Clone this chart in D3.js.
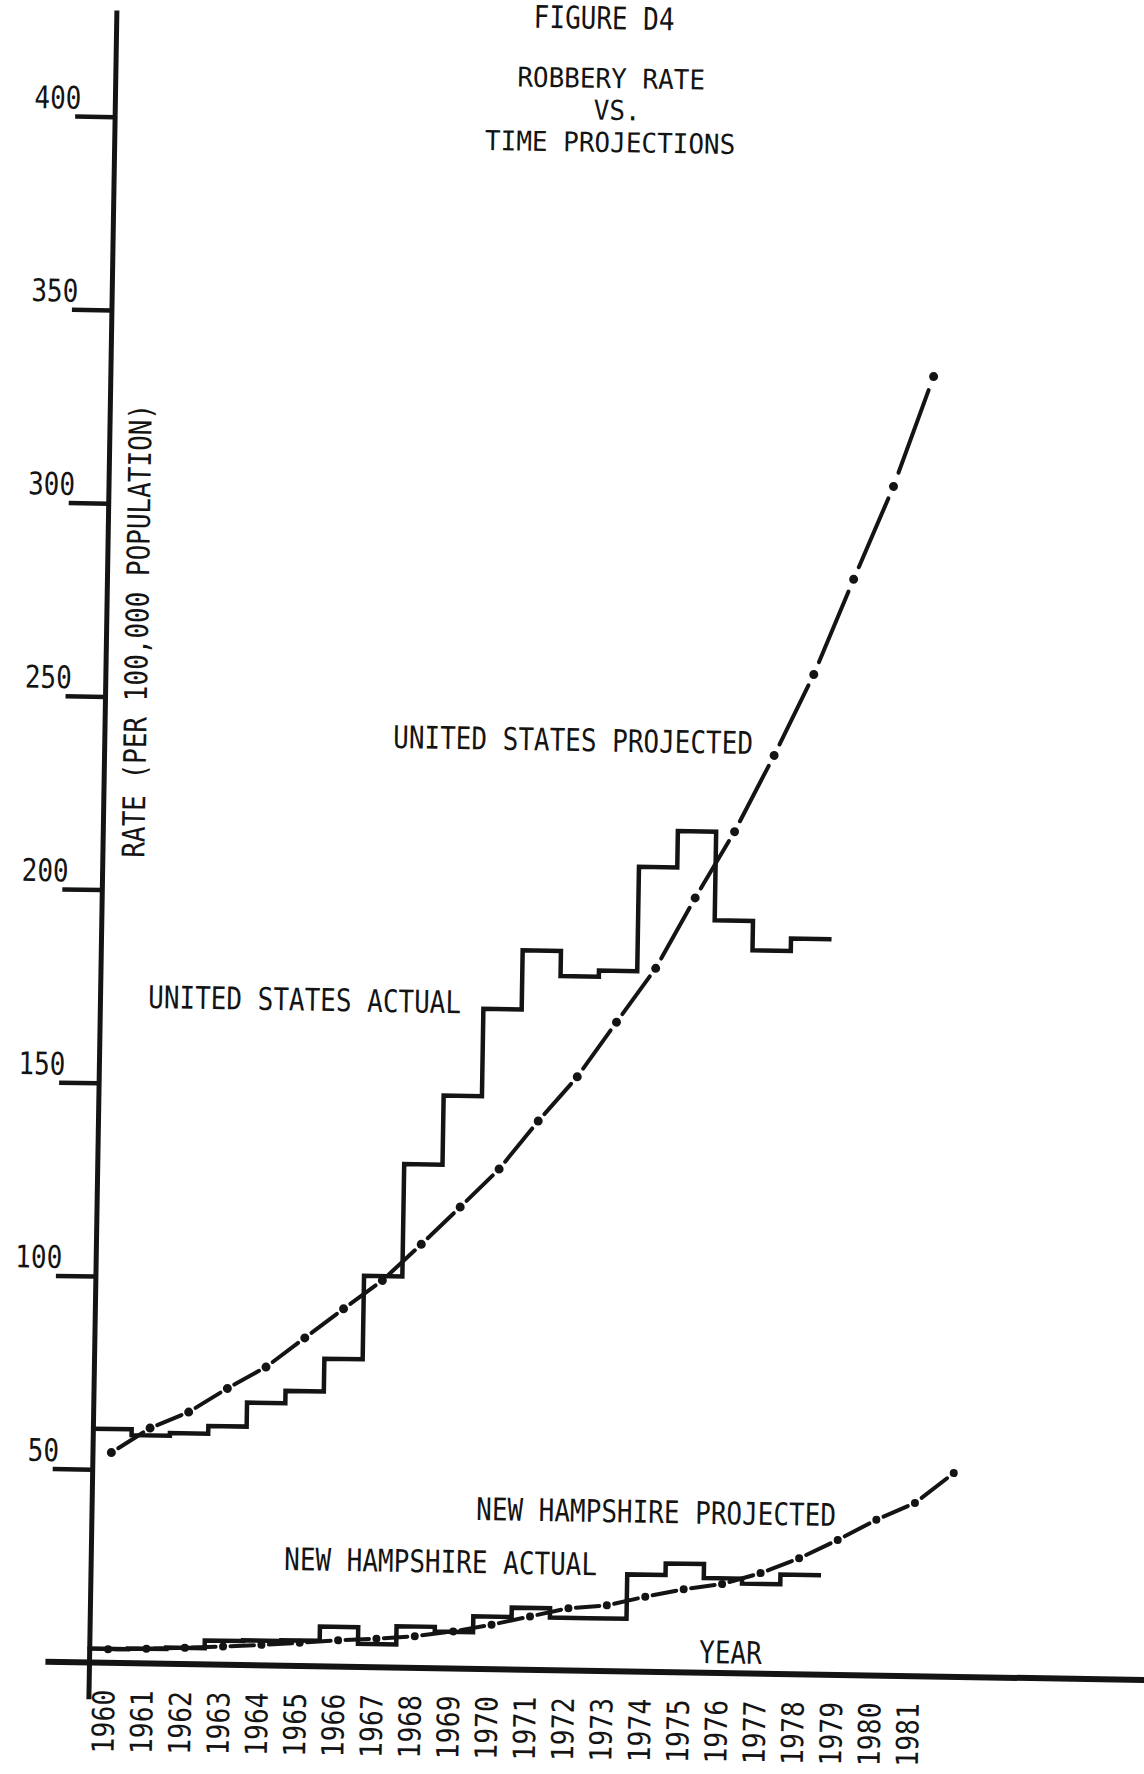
<!DOCTYPE html>
<html><head><meta charset="utf-8">
<script src="https://cdn.jsdelivr.net/npm/d3@7"></script>
<style>html,body{margin:0;padding:0;background:#fff;} svg{display:block;}</style>
</head><body><div id="chart"></div>
<script>
// ---------- data ----------
const actualYears = [1960,1961,1962,1963,1964,1965,1966,1967,1968,1969,1970,1971,1972,1973,1974,1975,1976,1977,1978];
const usActual = [60.5,59.0,59.7,61.7,67.9,71.1,79.6,101.2,130.3,148.2,170.8,186.1,179.6,181.2,208.2,217.6,194.7,187.1,190.3];
const nhActual = [3.6,3.8,4.2,6.2,6.4,6.6,10.3,6.0,10.7,9.5,13.6,16.0,13.6,13.6,25.1,28.1,24.5,23.2,25.7];
const usProjYears = [1960,1961,1962,1963,1964,1965,1966,1967,1968,1969,1970,1971,1972,1973,1974,1975,1976,1977,1978,1979,1980,1981];
const usProjected = [54.4,60.9,65.2,71.5,77.2,84.9,92.6,100.1,109.6,119.4,129.4,142.0,153.6,167.9,182.0,200.4,217.7,237.6,258.7,283.5,307.7,336.3];
const nhProjYears = [1960,1961,1962,1963,1964,1965,1966,1967,1968,1969,1970,1971,1972,1973,1974,1975,1976,1977,1978,1979,1980,1981,1982];
const nhProjected = [3.5,3.8,4.2,4.7,5.3,6.0,6.8,7.4,8.2,9.6,11.5,13.8,16.1,17.0,19.4,21.5,23.0,26.0,30.0,34.9,40.3,44.8,52.7];
const yTicks = [50,100,150,200,250,300,350,400];
const yearLabels = ["1960","1961","1962","1963","1964","1965","1966","1967","1968","1969","1970","1971","1972","1973","1974","1975","1976","1977","1978","1979","1980","1981"];
const titleLines = ["FIGURE D4","ROBBERY RATE","VS.","TIME PROJECTIONS"];

// ---------- layout ----------
const W = 1144, H = 1774;
const ox = 89.5, oy = 1662.5, theta = 0.95;
const rad = theta * Math.PI / 180, cs = Math.cos(rad), sn = Math.sin(rad);
const yearW = 38.3, unit = 3.865;
const INK = "#141414";
const FONT = "'DejaVu Sans Mono', 'Liberation Mono', monospace";

const x = d3.scaleLinear().domain([1960, 1961]).range([ox, ox + yearW]);
const y = d3.scaleLinear().domain([0, 400]).range([oy, oy - 400 * unit]);

// screen coords -> local (unrotated) coords
function loc(px, py) { const dx = px - ox, dy = py - oy; return [ox + dx * cs + dy * sn, oy - dx * sn + dy * cs]; }

const svg = d3.select('#chart').append('svg').attr('width', W).attr('height', H);
svg.append('rect').attr('width', W).attr('height', H).attr('fill', '#fff');
const g = svg.append('g').attr('transform', `rotate(${theta},${ox},${oy})`);

// ---------- axes ----------
g.append('line').attr('x1', x(1960)).attr('x2', x(1960)).attr('y1', y(-9.5)).attr('y2', y(427.5))
  .attr('stroke', INK).attr('stroke-width', 5);
g.append('line').attr('x1', x(1958.85)).attr('x2', x(1990)).attr('y1', y(0)).attr('y2', y(0))
  .attr('stroke', INK).attr('stroke-width', 6);

const ya = g.append('g').attr('transform', `translate(${ox},0)`)
  .call(d3.axisLeft(y).tickValues(yTicks).tickSize(40).tickFormat(d3.format('d')));
ya.select('.domain').remove();
ya.attr('font-family', FONT).attr('font-size', 26);
ya.selectAll('.tick line').attr('stroke', INK).attr('stroke-width', 4.5);
ya.selectAll('.tick text').attr('fill', INK).attr('x', -34).attr('dy', null).attr('y', -8 / 1.2)
  .attr('text-anchor', 'end').attr('transform', 'scale(1,1.2)');

// year labels
g.selectAll('text.yl').data(yearLabels).join('text').attr('class', 'yl')
  .attr('transform', d => `translate(${x(+d + 0.38)},${oy + 27}) rotate(-90) scale(1,1.15)`)
  .attr('text-anchor', 'end').attr('dy', '0.36em')
  .attr('font-family', FONT).attr('font-size', 26.5).attr('fill', INK).text(d => d);

// ---------- step lines (actual) ----------
const stepLine = d3.line().x(d => x(d[0])).y(d => y(d[1])).curve(d3.curveStepAfter);
function stepSeries(vals) {
  const pts = actualYears.map((yr, i) => [yr, vals[i]]);
  pts.push([actualYears[actualYears.length - 1] + 1, vals[vals.length - 1]]);
  g.append('path').attr('d', stepLine(pts)).attr('fill', 'none').attr('stroke', INK)
    .attr('stroke-width', 4.5).attr('stroke-linejoin', 'miter').attr('stroke-linecap', 'square');
}
stepSeries(usActual);
stepSeries(nhActual);

// ---------- dash-dot projections ----------
function dashDot(yrs, vals, r) {
  const pts = yrs.map((yr, i) => [x(yr + 0.48), y(vals[i])]);
  for (let i = 0; i < pts.length - 1; i++) {
    const [x1, y1] = pts[i], [x2, y2] = pts[i + 1];
    const len = Math.hypot(x2 - x1, y2 - y1), ux = (x2 - x1) / len, uy = (y2 - y1) / len;
    const gap = 4 + 0.09 * len;
    g.append('line').attr('x1', x1 + ux * gap).attr('y1', y1 + uy * gap)
      .attr('x2', x2 - ux * gap).attr('y2', y2 - uy * gap)
      .attr('stroke', INK).attr('stroke-width', 4).attr('stroke-linecap', 'round');
  }
  g.selectAll(null).data(pts).join('circle').attr('cx', d => d[0]).attr('cy', d => d[1])
    .attr('r', r).attr('fill', INK);
}
dashDot(usProjYears, usProjected, 4.5);
dashDot(nhProjYears, nhProjected, 4.0);

// ---------- text ----------
function label(txt, px, py, anchor, rot, sy) {
  const [lx, ly] = loc(px, py);
  g.append('text').attr('transform', `translate(${lx},${ly})${rot ? ` rotate(${rot})` : ''} scale(1,${sy || 1.2})`)
    .attr('text-anchor', anchor).attr('font-family', FONT).attr('font-size', 26).attr('fill', INK).text(txt);
}
label(titleLines[0], 604, 29, 'middle');
label(titleLines[1], 611, 88, 'middle', 0, 1.05);
label(titleLines[2], 617, 120, 'middle', 0, 1.05);
label(titleLines[3], 610, 152, 'middle', 0, 1.05);
label('RATE (PER 100,000 POPULATION)', 148, 631, 'middle', -90);
label('UNITED STATES PROJECTED', 393, 748, 'start');
label('UNITED STATES ACTUAL', 148, 1008, 'start');
label('NEW HAMPSHIRE PROJECTED', 476, 1520, 'start');
label('NEW HAMPSHIRE ACTUAL', 284, 1570, 'start');
label('YEAR', 699, 1663, 'start');
</script></body></html>
